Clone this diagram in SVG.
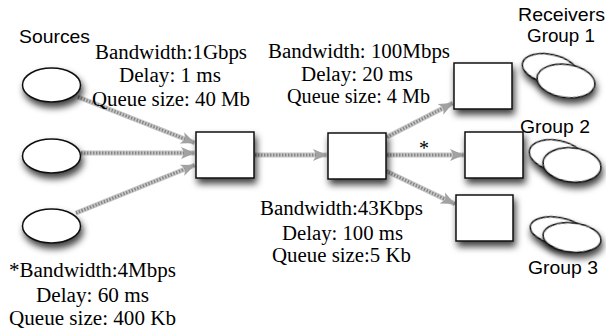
<svg xmlns="http://www.w3.org/2000/svg" width="606" height="335" viewBox="0 0 606 335">
<style>
.serif{font-family:'Liberation Serif','Times New Roman',serif;font-size:20px;fill:#000}
.sans{font-family:'Liberation Sans',Arial,sans-serif;font-size:19px;fill:#000}
.node{fill:#fff;stroke:#111;stroke-width:1.5}
.band{stroke:#c6c6c6;stroke-width:5;fill:none}
.hatch{stroke:#858585;stroke-width:3;stroke-dasharray:1.4 1.6;fill:none}
</style>
<defs>
<filter id="sh" x="-40%" y="-40%" width="190%" height="210%">
<feDropShadow dx="2" dy="5" stdDeviation="3.5" flood-color="#000" flood-opacity="0.75"/>
</filter>
<marker id="ah" markerUnits="userSpaceOnUse" markerWidth="15" markerHeight="13" refX="14" refY="6.5" orient="auto">
<path d="M0,0.5 L14,6.5 L0,12.5 L3.5,6.5 z" fill="#a2a2a2"/>
</marker>
</defs>
<rect width="606" height="335" fill="#fff"/>

<g id="connectors">
<line class="band" x1="78" y1="97" x2="195" y2="143"/>
<line class="hatch" x1="78" y1="97" x2="195" y2="143" marker-end="url(#ah)"/>
<line class="band" x1="81" y1="153" x2="195" y2="153"/>
<line class="hatch" x1="81" y1="153" x2="195" y2="153" marker-end="url(#ah)"/>
<line class="band" x1="76" y1="213" x2="195" y2="165"/>
<line class="hatch" x1="76" y1="213" x2="195" y2="165" marker-end="url(#ah)"/>
<line class="band" x1="255" y1="155" x2="327" y2="155"/>
<line class="hatch" x1="255" y1="155" x2="327" y2="155" marker-end="url(#ah)"/>
<line class="band" x1="387" y1="137" x2="453" y2="103"/>
<line class="hatch" x1="387" y1="137" x2="453" y2="103" marker-end="url(#ah)"/>
<line class="band" x1="387" y1="155" x2="464" y2="155"/>
<line class="hatch" x1="387" y1="155" x2="464" y2="155" marker-end="url(#ah)"/>
<line class="band" x1="386" y1="171" x2="455" y2="204"/>
<line class="hatch" x1="386" y1="171" x2="455" y2="204" marker-end="url(#ah)"/>
</g>

<g id="source1"><ellipse class="node" filter="url(#sh)" cx="51.5" cy="85" rx="29" ry="17"/></g>
<g id="source2"><ellipse class="node" filter="url(#sh)" cx="51.5" cy="156" rx="29" ry="17"/></g>
<g id="source3"><ellipse class="node" filter="url(#sh)" cx="51.5" cy="226" rx="29" ry="17"/></g>

<g id="router1"><rect class="node" filter="url(#sh)" x="196" y="132" width="58" height="46"/></g>
<g id="router2"><rect class="node" filter="url(#sh)" x="328" y="133" width="58" height="46"/></g>

<g id="edge1"><rect class="node" filter="url(#sh)" x="454" y="63" width="58" height="46"/></g>
<g id="edge2"><rect class="node" filter="url(#sh)" x="465" y="132" width="58" height="46"/></g>
<g id="edge3"><rect class="node" filter="url(#sh)" x="456" y="195" width="57" height="46"/></g>

<g id="group1">
<ellipse class="node" filter="url(#sh)" cx="550" cy="69" rx="28" ry="14.5" transform="rotate(12 550 69)"/>
<ellipse class="node" filter="url(#sh)" cx="566" cy="81" rx="29" ry="16.5" transform="rotate(8 566 81)"/>
</g>
<g id="group2">
<ellipse class="node" filter="url(#sh)" cx="557" cy="156" rx="28" ry="15.5" transform="rotate(12 557 156)"/>
<ellipse class="node" filter="url(#sh)" cx="572" cy="165" rx="29" ry="17" transform="rotate(6 572 165)"/>
</g>
<g id="group3">
<ellipse class="node" filter="url(#sh)" cx="558" cy="231" rx="28" ry="13.5" transform="rotate(10 558 231)"/>
<ellipse class="node" filter="url(#sh)" cx="572" cy="237.5" rx="29" ry="14.5" transform="rotate(6 572 237.5)"/>
</g>

<g id="labels">
<text class="sans" x="19" y="43" textLength="71" lengthAdjust="spacingAndGlyphs">Sources</text>
<text class="sans" x="518" y="21" textLength="87" lengthAdjust="spacingAndGlyphs">Receivers</text>
<text class="sans" x="527" y="42" textLength="68" lengthAdjust="spacingAndGlyphs">Group 1</text>
<text class="sans" x="520" y="133" textLength="70" lengthAdjust="spacingAndGlyphs">Group 2</text>
<text class="sans" x="528" y="274" textLength="70" lengthAdjust="spacingAndGlyphs">Group 3</text>

<text class="serif" x="95" y="59" textLength="152" lengthAdjust="spacingAndGlyphs">Bandwidth:1Gbps</text>
<text class="serif" x="119" y="82" textLength="102" lengthAdjust="spacingAndGlyphs">Delay: 1 ms</text>
<text class="serif" x="92" y="106" textLength="158" lengthAdjust="spacingAndGlyphs">Queue size: 40 Mb</text>

<text class="serif" x="268" y="58" textLength="182" lengthAdjust="spacingAndGlyphs">Bandwidth: 100Mbps</text>
<text class="serif" x="301" y="81" textLength="112" lengthAdjust="spacingAndGlyphs">Delay: 20 ms</text>
<text class="serif" x="287" y="103" textLength="143" lengthAdjust="spacingAndGlyphs">Queue size: 4 Mb</text>

<text class="serif" x="260" y="215" textLength="163" lengthAdjust="spacingAndGlyphs">Bandwidth:43Kbps</text>
<text class="serif" x="282" y="240" textLength="121" lengthAdjust="spacingAndGlyphs">Delay: 100 ms</text>
<text class="serif" x="272" y="262" textLength="139" lengthAdjust="spacingAndGlyphs">Queue size:5 Kb</text>

<text class="serif" x="9" y="277" textLength="167" lengthAdjust="spacingAndGlyphs">*Bandwidth:4Mbps</text>
<text class="serif" x="36" y="302" textLength="113" lengthAdjust="spacingAndGlyphs">Delay: 60 ms</text>
<text class="serif" x="9" y="325" textLength="167" lengthAdjust="spacingAndGlyphs">Queue size: 400 Kb</text>

<text class="serif" x="424" y="155" text-anchor="middle">*</text>
</g>
</svg>
